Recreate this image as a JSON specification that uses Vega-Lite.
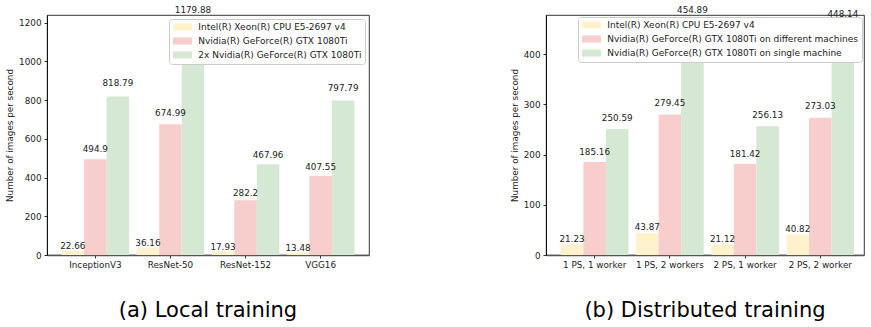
{
  "$schema": "https://vega.github.io/schema/vega-lite/v6.json",
  "background": "white",
  "padding": {"left": 5, "top": 5, "right": 0, "bottom": 0},
  "datasets": {
    "local": [
      {"model": "InceptionV3", "series": "Intel(R) Xeon(R) CPU E5-2697 v4", "value": 22.66},
      {"model": "InceptionV3", "series": "Nvidia(R) GeForce(R) GTX 1080Ti", "value": 494.9},
      {"model": "InceptionV3", "series": "2x Nvidia(R) GeForce(R) GTX 1080Ti", "value": 818.79},
      {"model": "ResNet-50", "series": "Intel(R) Xeon(R) CPU E5-2697 v4", "value": 36.16},
      {"model": "ResNet-50", "series": "Nvidia(R) GeForce(R) GTX 1080Ti", "value": 674.99},
      {"model": "ResNet-50", "series": "2x Nvidia(R) GeForce(R) GTX 1080Ti", "value": 1179.88},
      {"model": "ResNet-152", "series": "Intel(R) Xeon(R) CPU E5-2697 v4", "value": 17.93},
      {"model": "ResNet-152", "series": "Nvidia(R) GeForce(R) GTX 1080Ti", "value": 282.2},
      {"model": "ResNet-152", "series": "2x Nvidia(R) GeForce(R) GTX 1080Ti", "value": 467.96},
      {"model": "VGG16", "series": "Intel(R) Xeon(R) CPU E5-2697 v4", "value": 13.48},
      {"model": "VGG16", "series": "Nvidia(R) GeForce(R) GTX 1080Ti", "value": 407.55},
      {"model": "VGG16", "series": "2x Nvidia(R) GeForce(R) GTX 1080Ti", "value": 797.79}
    ],
    "distributed": [
      {"setup": "1 PS, 1 worker", "series": "Intel(R) Xeon(R) CPU E5-2697 v4", "value": 21.23},
      {"setup": "1 PS, 1 worker", "series": "Nvidia(R) GeForce(R) GTX 1080Ti on different machines", "value": 185.16},
      {"setup": "1 PS, 1 worker", "series": "Nvidia(R) GeForce(R) GTX 1080Ti on single machine", "value": 250.59},
      {"setup": "1 PS, 2 workers", "series": "Intel(R) Xeon(R) CPU E5-2697 v4", "value": 43.87},
      {"setup": "1 PS, 2 workers", "series": "Nvidia(R) GeForce(R) GTX 1080Ti on different machines", "value": 279.45},
      {"setup": "1 PS, 2 workers", "series": "Nvidia(R) GeForce(R) GTX 1080Ti on single machine", "value": 454.89},
      {"setup": "2 PS, 1 worker", "series": "Intel(R) Xeon(R) CPU E5-2697 v4", "value": 21.12},
      {"setup": "2 PS, 1 worker", "series": "Nvidia(R) GeForce(R) GTX 1080Ti on different machines", "value": 181.42},
      {"setup": "2 PS, 1 worker", "series": "Nvidia(R) GeForce(R) GTX 1080Ti on single machine", "value": 256.13},
      {"setup": "2 PS, 2 worker", "series": "Intel(R) Xeon(R) CPU E5-2697 v4", "value": 40.82},
      {"setup": "2 PS, 2 worker", "series": "Nvidia(R) GeForce(R) GTX 1080Ti on different machines", "value": 273.03},
      {"setup": "2 PS, 2 worker", "series": "Nvidia(R) GeForce(R) GTX 1080Ti on single machine", "value": 448.14}
    ]
  },
  "config": {
    "font": "DejaVu Sans",
    "view": {"stroke": "black", "strokeWidth": 0.8},
    "axis": {
      "labelFont": "DejaVu Sans", "labelFontSize": 8.8, "labelColor": "#222",
      "titleFont": "DejaVu Sans", "titleFontSize": 8.8, "titleFontWeight": "normal", "titleColor": "#222",
      "tickColor": "black", "tickSize": 3, "tickWidth": 0.8,
      "domainColor": "black", "domainWidth": 0.8, "grid": false, "labelPadding": 3
    },
    "axisX": {"domainColor": "#555", "domainWidth": 1.6, "labelAngle": 0, "labelPadding": 2},
    "axisY": {"titlePadding": 4, "format": "d"},
    "legend": {
      "orient": "top-right", "offset": 4, "padding": 3.5,
      "fillColor": "white", "strokeColor": "#cccccc", "cornerRadius": 3,
      "labelFont": "DejaVu Sans", "labelFontSize": 9, "labelColor": "#222", "labelLimit": 400,
      "symbolType": "M-2.11,-0.78H2.11V0.78H-2.11Z", "symbolSize": 81,
      "symbolStrokeWidth": 0, "symbolOpacity": 1, "symbolOffset": 5.5,
      "labelOffset": 11.3, "rowPadding": 4
    },
    "title": {"font": "DejaVu Sans", "fontSize": 21, "fontWeight": "normal", "color": "black"}
  },
  "bounds": "flush",
  "spacing": 177,
  "resolve": {"scale": {"color": "independent", "xOffset": "independent", "x": "independent", "y": "independent"}, "legend": {"color": "independent"}},
  "hconcat": [
    {
      "width": 322,
      "height": 240,
      "data": {"name": "local"},
      "title": {"text": "(a) Local training", "orient": "bottom", "offset": 31, "anchor": "middle"},
      "layer": [
        {
          "mark": {"type": "bar"},
          "encoding": {
            "x": {"field": "model", "type": "nominal", "sort": null, "scale": {"paddingInner": 0.1, "paddingOuter": 0.194}, "axis": {"title": null}},
            "xOffset": {"field": "series", "type": "nominal", "sort": null, "scale": {"paddingInner": 0, "paddingOuter": 0}},
            "y": {"field": "value", "type": "quantitative", "stack": null, "scale": {"domain": [0, 1238.87], "nice": false}, "axis": {"title": "Number of images per second", "values": [0, 200, 400, 600, 800, 1000, 1200]}},
            "color": {"field": "series", "type": "nominal", "sort": null,
              "scale": {"domain": ["Intel(R) Xeon(R) CPU E5-2697 v4", "Nvidia(R) GeForce(R) GTX 1080Ti", "2x Nvidia(R) GeForce(R) GTX 1080Ti"], "range": ["#fff2cc", "#f8cecc", "#d5e8d4"]},
              "legend": {"title": null, "offset": 4}}
          }
        },
        {
          "mark": {"type": "text", "baseline": "middle", "fontSize": 8.8, "color": "#222"},
          "encoding": {
            "x": {"field": "model", "type": "nominal", "sort": null},
            "xOffset": {"field": "series", "type": "nominal", "sort": null},
            "y": {"field": "value", "type": "quantitative", "stack": null, "scale": {"domain": [-22.8, 1154.8], "nice": false, "zero": false}, "axis": null},
            "text": {"field": "value", "type": "nominal"}
          }
        }
      ],
      "resolve": {"scale": {"y": "independent"}}
    },
    {
      "width": 318,
      "height": 240,
      "data": {"name": "distributed"},
      "title": {"text": "(b) Distributed training", "orient": "bottom", "offset": 31, "anchor": "middle"},
      "layer": [
        {
          "mark": {"type": "bar"},
          "encoding": {
            "x": {"field": "setup", "type": "nominal", "sort": null, "scale": {"paddingInner": 0.1, "paddingOuter": 0.164, "align": 0.6}, "axis": {"title": null}},
            "xOffset": {"field": "series", "type": "nominal", "sort": null, "scale": {"paddingInner": 0, "paddingOuter": 0}},
            "y": {"field": "value", "type": "quantitative", "stack": null, "scale": {"domain": [0, 477.63], "nice": false}, "axis": {"title": "Number of images per second", "values": [0, 100, 200, 300, 400]}},
            "color": {"field": "series", "type": "nominal", "sort": null,
              "scale": {"domain": ["Intel(R) Xeon(R) CPU E5-2697 v4", "Nvidia(R) GeForce(R) GTX 1080Ti on different machines", "Nvidia(R) GeForce(R) GTX 1080Ti on single machine"], "range": ["#fff2cc", "#f8cecc", "#d5e8d4"]},
              "legend": {"title": null, "offset": 2}}
          }
        },
        {
          "mark": {"type": "text", "baseline": "middle", "fontSize": 8.8, "color": "#222"},
          "encoding": {
            "x": {"field": "setup", "type": "nominal", "sort": null},
            "xOffset": {"field": "series", "type": "nominal", "sort": null},
            "y": {"field": "value", "type": "quantitative", "stack": null, "scale": {"domain": [-9.03, 445.4], "nice": false, "zero": false}, "axis": null},
            "text": {"field": "value", "type": "nominal"}
          }
        }
      ],
      "resolve": {"scale": {"y": "independent"}}
    }
  ]
}
